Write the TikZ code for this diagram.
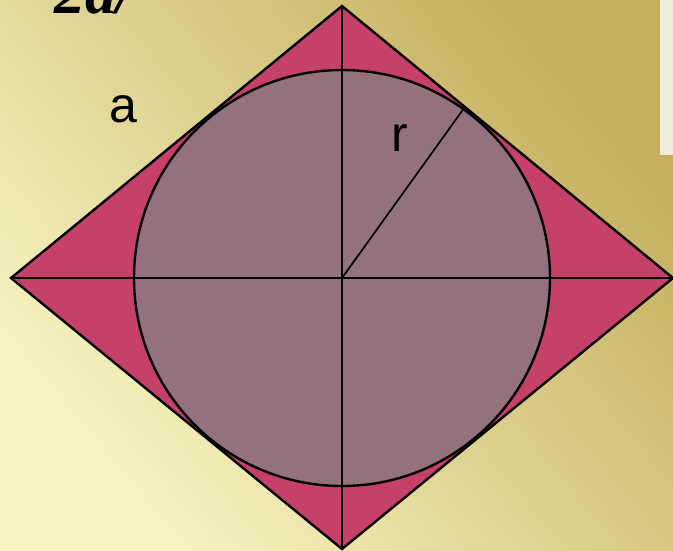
\documentclass[tikz,border=0pt]{standalone}
\usepackage{fontspec}
\usetikzlibrary{calc}
\setmainfont{Liberation Sans}
\newfontfamily\serifit{Liberation Serif}
\definecolor{diamondfill}{HTML}{C6416A}
\definecolor{circlefill}{HTML}{94717F}
\definecolor{bgdark}{HTML}{C4AF5E}
\definecolor{bglight}{HTML}{F8F4C2}
\definecolor{photo}{HTML}{F1EDDC}
\tikzset{
  outline/.style={draw=black, line width=2.4pt, line join=miter},
  axisline/.style={draw=black, line width=2.4pt},
  radiusline/.style={draw=black, line width=1.7pt},
  lbl/.style={font=\fontsize{50}{50}\selectfont, inner sep=0pt}
}
\begin{document}
\begin{tikzpicture}[x=1pt,y=-1pt]
\useasboundingbox (0,0) rectangle (673,550);
\shade[top color=bgdark, bottom color=bglight, shading angle=-50] (0,0) rectangle (673,550);
\fill[photo] (660,0) rectangle (673,155);
\node[anchor=base west, inner sep=0pt, font=\serifit\bfseries\itshape\fontsize{62}{62}\selectfont] (title) at (54,13) {2a/};
\coordinate (T) at (342,6);
\coordinate (L) at (11,278);
\coordinate (R) at (673,278);
\coordinate (B) at (342,549);
\coordinate (O) at (342,278);
\path[outline, fill=diamondfill] (T) -- (R) -- (B) -- (L) -- cycle;
\path[outline, fill=circlefill] (O) circle[radius=208];
\draw[axisline] (T) -- (B);
\draw[axisline] (L) -- (R);
\coordinate (P) at ($(O)+(-54.3:208)$);
\draw[radiusline] (O) -- (P);
\node[lbl, anchor=base] (a) at (123,122) {a};
\node[lbl, anchor=base] (r) at (400,151) {r};
\end{tikzpicture}
\end{document}
